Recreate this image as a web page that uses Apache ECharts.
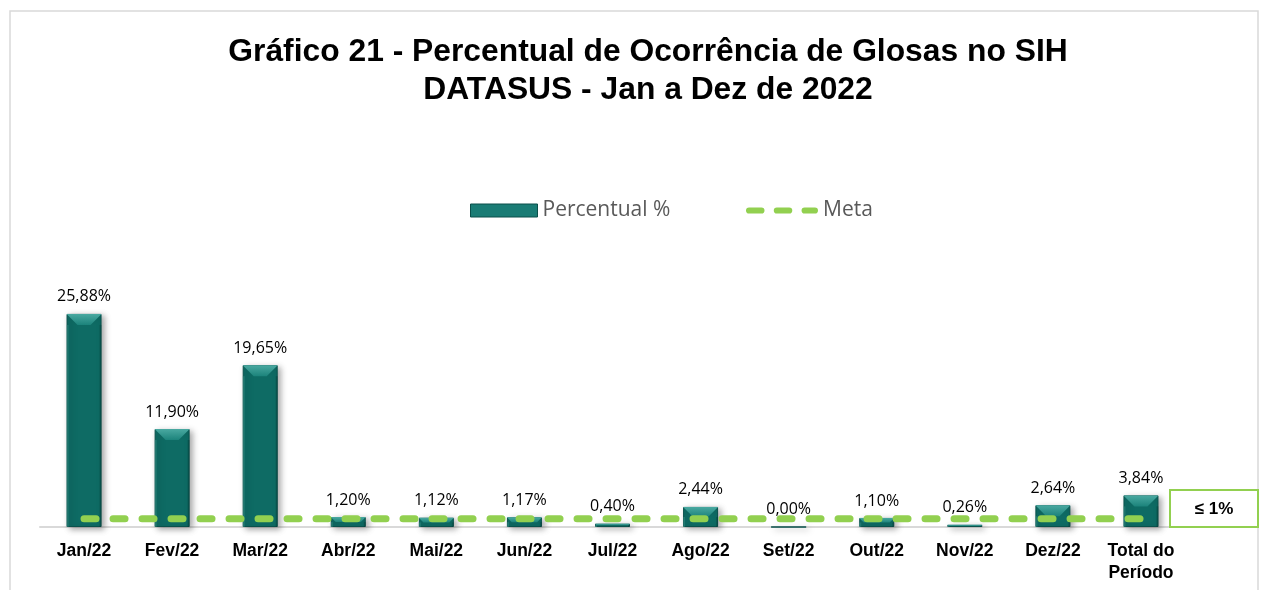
<!DOCTYPE html>
<html><head><meta charset="utf-8">
<script src="https://cdn.jsdelivr.net/npm/echarts@6/dist/echarts.min.js"></script>
<style>html,body{margin:0;padding:0;background:#fff}#c{width:1263px;height:590px}</style>
</head><body><div id="c"></div>
<script>
const categories = ['Jan/22','Fev/22','Mar/22','Abr/22','Mai/22','Jun/22','Jul/22','Ago/22','Set/22','Out/22','Nov/22','Dez/22','Total do\nPeríodo'];
const percentual = [25.88, 11.90, 19.65, 1.20, 1.12, 1.17, 0.40, 2.44, 0.00, 1.10, 0.26, 2.64, 3.84];
const meta = [1,1,1,1,1,1,1,1,1,1,1,1,1];
const metaLabel = '≤ 1%';

const dashIcon = 'path://M3,0H15A3,3 0 0 1 15,6H3A3,3 0 0 1 3,0Z M30,0H42A3,3 0 0 1 42,6H30A3,3 0 0 1 30,0Z M57,0H67A3,3 0 0 1 67,6H57A3,3 0 0 1 57,0Z';
const BW = 35;

function bevel(params, api) {
  const top = api.coord([api.value(0), api.value(1)]);
  const base = api.coord([api.value(0), 0]);
  const hgt = base[1] - top[1];
  if (hgt < 1) return null;
  const h = Math.min(11, hgt / 2);
  const l = top[0] - BW / 2, r = top[0] + BW / 2;
  return {
    type: 'group',
    children: [
      {type: 'polygon', shape: {points: [[l, top[1]], [r, top[1]], [r - h, top[1] + h], [l + h, top[1] + h]]},
        style: {fill: {type: 'linear', x: 0, y: 0, x2: 0, y2: 1, colorStops: [
          {offset: 0, color: '#4aa9a1'}, {offset: 1, color: '#1c837b'}]}}},
      {type: 'rect', shape: {x: l, y: top[1] + h, width: 2, height: Math.max(0, hgt - h)},
        style: {fill: 'rgba(70,160,150,0.35)'}},
      {type: 'rect', shape: {x: r - 2, y: top[1] + h, width: 2, height: Math.max(0, hgt - h)},
        style: {fill: 'rgba(0,40,36,0.25)'}}
    ]
  };
}

const chart = echarts.init(document.getElementById('c'));
chart.setOption({
  animation: false,
  backgroundColor: '#fff',
  title: {
    text: 'Gráfico 21 - Percentual de Ocorrência de Glosas no SIH\nDATASUS - Jan a Dez de 2022',
    left: 643, top: 28, textAlign: 'center',
    textStyle: {fontFamily: 'Liberation Sans, Arial', fontWeight: 'bold', fontSize: 31.8, color: '#000', lineHeight: 38}
  },
  legend: [
    {
      left: 470, top: 200, padding: 0,
      itemWidth: 67, itemHeight: 13, itemGap: 8,
      textStyle: {fontFamily: 'Open Sans, Noto Sans', fontSize: 21, color: '#595959'},
      data: [{name: 'Percentual %', icon: 'rect', itemStyle: {color: '#1a7c75', borderColor: '#0a4f4a', borderWidth: 1}}]
    },
    {
      left: 746, top: 200, padding: 0,
      itemWidth: 72, itemHeight: 7, itemGap: 8,
      textStyle: {fontFamily: 'Open Sans, Noto Sans', fontSize: 21, color: '#595959'},
      data: [{name: 'Meta', icon: dashIcon, itemStyle: {color: '#92d050'}}]
    }
  ],
  grid: {left: 40, right: 78, top: 280, bottom: 63},
  xAxis: {
    type: 'category', data: categories,
    axisTick: {show: false},
    axisLine: {lineStyle: {color: '#d9d9d9', width: 2}},
    axisLabel: {fontFamily: 'Liberation Sans, Arial', fontWeight: 'bold', fontSize: 17.5, color: '#000', margin: 13, lineHeight: 22}
  },
  yAxis: {type: 'value', min: 0, max: 30, show: false, splitLine: {show: false}},
  series: [
    {
      name: 'Percentual %', type: 'bar', data: percentual, barWidth: BW,
      itemStyle: {
        color: '#0e6b64',
        borderColor: '#0a514c', borderWidth: 1,
        shadowBlur: 6, shadowOffsetX: 3, shadowOffsetY: 2, shadowColor: 'rgba(0,0,0,0.35)'
      },
      label: {
        show: true, position: 'top', distance: 9,
        fontFamily: 'Open Sans, Noto Sans', fontSize: 16, color: '#000',
        formatter: p => p.value.toFixed(2).replace('.', ',') + '%'
      },
      z: 2
    },
    {
      name: 'bevel', type: 'custom', renderItem: bevel,
      data: percentual.map((v, i) => [i, v]), encode: {x: 0, y: 1},
      silent: true, z: 2.5, tooltip: {show: false}
    },
    {
      name: 'Meta', type: 'line', data: meta, symbol: 'none',
      lineStyle: {color: '#92d050', width: 7, type: [12, 17], cap: 'round'},
      itemStyle: {color: '#92d050'},
      z: 3
    }
  ],
  graphic: [
    {type: 'rect', x: 10, y: 11, shape: {width: 1248, height: 600},
      style: {fill: 'none', stroke: '#d9d9d9', lineWidth: 1.5}, silent: true, z: -1},
    {type: 'rect', x: 1170, y: 490, shape: {width: 88, height: 37},
      style: {fill: '#fff', stroke: '#92d050', lineWidth: 2}, z: 10},
    {type: 'text', x: 1214, y: 509, z: 11,
      style: {text: metaLabel, fontFamily: 'Liberation Sans, Arial', fontWeight: 'bold', fontSize: 17, fill: '#000', align: 'center', verticalAlign: 'middle'}}
  ]
});
</script>
</body></html>
